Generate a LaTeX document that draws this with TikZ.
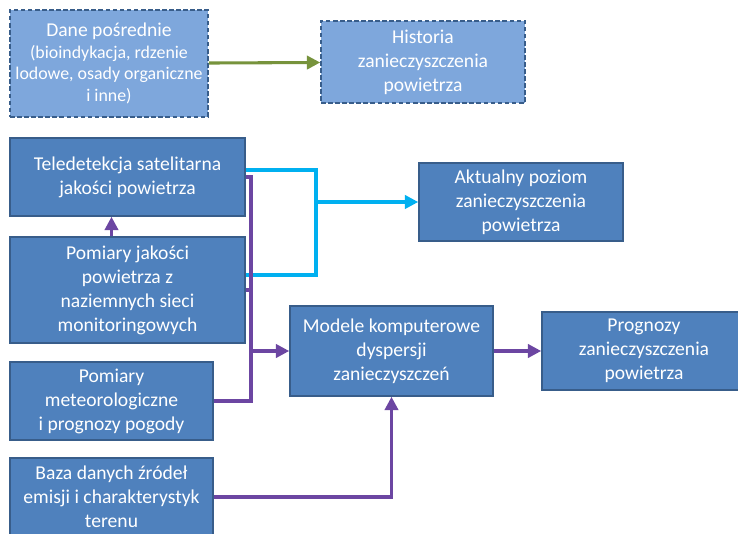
\documentclass[tikz,border=0pt]{standalone}
\usepackage{fontspec}
\setmainfont{Carlito}
\usepackage{tikz}
\usetikzlibrary{arrows.meta}

\definecolor{boxblue}{RGB}{79,129,189}
\definecolor{boxedge}{RGB}{56,93,138}
\definecolor{lightblue}{RGB}{126,167,220}
\definecolor{linepurple}{RGB}{108,70,162}
\definecolor{linecyan}{RGB}{0,176,240}
\definecolor{linegreen}{RGB}{119,147,60}

\begin{document}
\begin{tikzpicture}[
            x = 0.75pt, y = -0.75pt, % pixel grid, y pointing down
            > = {Triangle[length=10pt, width=10pt]}, % arrow head style
            line width = 2.3pt % connector style
        ]

        \tikzstyle{box}=[
            draw = boxedge,
            line width = 1.2pt,
            fill = boxblue,
            text = white,
            align = center,
            inner sep = 0pt,
            font = \fontsize{14.7}{18}\selectfont
        ]
        \tikzstyle{oldbox}=[
            box,
            fill = lightblue,
            dash pattern = on 3.5pt off 1.8pt
        ]
        \tikzstyle{purpleline}=[draw = linepurple]
        \tikzstyle{cyanline}=[draw = linecyan]

        \useasboundingbox (0,0) rectangle (738,534);

        \node[oldbox, minimum width=148.5pt, minimum height=80.25pt,
              font=\fontsize{13.4}{16.3}\selectfont] (dane) at (109,63.5)
            {{\fontsize{14.7}{16.3}\selectfont Dane pośrednie}\\(bioindykacja, rdzenie\\lodowe, osady organiczne\\i inne)};
        \node[oldbox, minimum width=153pt, minimum height=61.5pt] (hist) at (423,62)
            {Historia\\zanieczyszczenia\\powietrza};

        \node[box, minimum width=176.25pt, minimum height=58.5pt] (tele) at (127.5,177)
            {Teledetekcja satelitarna\\jakości powietrza};
        \node[box, minimum width=153pt, minimum height=58.5pt] (aktual) at (521,202)
            {Aktualny poziom\\zanieczyszczenia\\powietrza};
        \node[box, minimum width=176.25pt, minimum height=79.5pt] (pomjak) at (127.5,290)
            {Pomiary jakości\\powietrza z\\naziemnych sieci\\monitoringowych};
        \node[box, minimum width=152.25pt, minimum height=67.5pt] (modele) at (391.5,351)
            {Modele komputerowe\\dyspersji\\zanieczyszczeń};
        \node[box, minimum width=153pt, minimum height=58.5pt] (prog) at (644,351)
            {Prognozy\\zanieczyszczenia\\powietrza};
        \node[box, minimum width=152.25pt, minimum height=58.5pt] (meteo) at (111.5,401)
            {Pomiary\\meteorologiczne\\i prognozy pogody};
        \node[box, minimum width=152.25pt, minimum height=58.5pt] (baza) at (111.5,497)
            {Baza danych źródeł\\emisji i charakterystyk\\terenu};

        % junctions
        \coordinate (cj) at (316,202);
        \coordinate (pj) at (251,351);

        \draw[->, linegreen] (dane) -- (hist);

        \draw[cyanline] ([yshift=5.25pt]tele.east) -| (cj);
        \draw[cyanline] ([yshift=11.25pt]pomjak.east) -| (cj);
        \draw[->, cyanline] (cj) -- (aktual.west);

        \draw[purpleline] (tele.east) -| (pj);
        \draw[purpleline] (pomjak.east) -| (pj);
        \draw[purpleline] (meteo.east) -| (pj);
        \draw[->, purpleline] (pj) -- (modele.west);
        \draw[->, purpleline] (pomjak.north -| meteo.north) -- (tele.south -| meteo.north);
        \draw[->, purpleline] (modele) -- (prog);
        \draw[->, purpleline] (baza.east) -| (modele.south);

  \end{tikzpicture}
\end{document}
